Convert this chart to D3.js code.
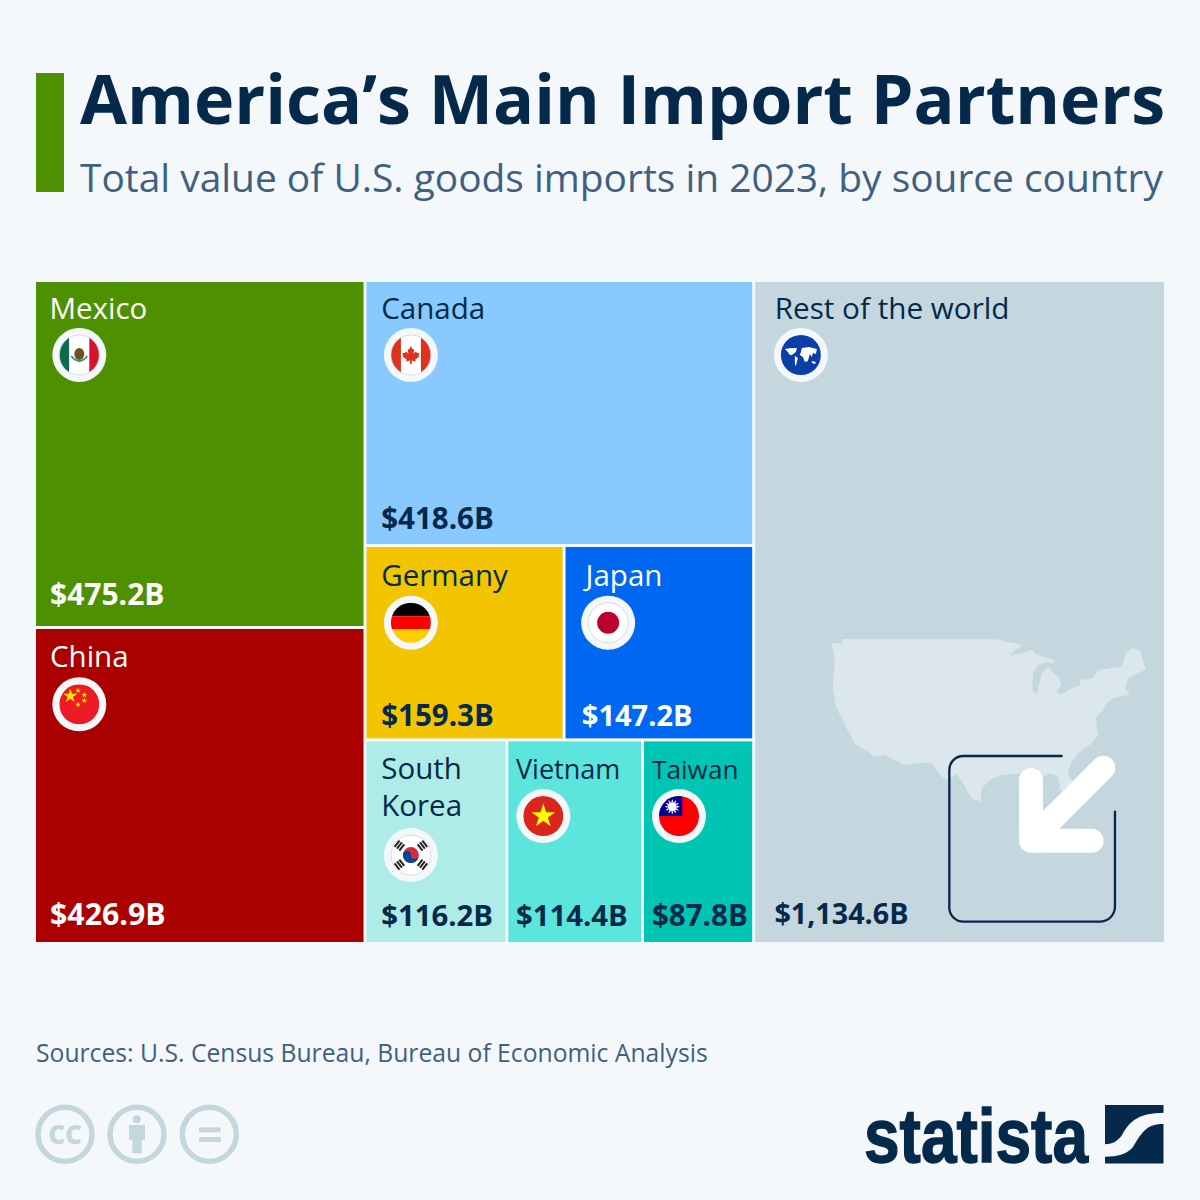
<!DOCTYPE html>
<html><head><meta charset="utf-8">
<script src="https://cdn.jsdelivr.net/npm/d3@7"></script>
<style>html,body{margin:0;padding:0;background:#f4f8fb}svg{display:block}text{font-family:"Open Sans",sans-serif}</style>
</head><body><svg id="c" width="1200" height="1200"></svg>
<script>
const titleText = "America’s Main Import Partners";
const subtitleText = "Total value of U.S. goods imports in 2023, by source country";
const sourceText = "Sources: U.S. Census Bureau, Bureau of Economic Analysis";
const countries = ["Mexico","China","Canada","Germany","Japan","South Korea","Vietnam","Taiwan","Rest of the world"];
// values printed in the cells
const importValues = [475.2,426.9,418.6,159.3,147.2,116.2,114.4,87.8,1134.6];
// the reference's cells are not exactly proportional to the printed values:
// these weights are estimated from the areas of the cells in the picture
const cellWeights = [471.1,429.0,423.1,158.9,151.4,118.6,113.5,93.0,1121.5];
const fillColors = ["#4e9100","#ab0000","#88caff","#f2c500","#0068f0","#aeece8","#5ce5dc","#00c5b2","#c4d7df"];
const textColors = ["#ffffff","#ffffff","#04294a","#04294a","#ffffff","#04294a","#04294a","#04294a","#04294a"];
const groupColumns = [["Mexico","China"],["Canada",["Germany","Japan"],["South Korea","Vietnam","Taiwan"]],["Rest of the world"]];

const NAVY="#04294a", BG="#f4f8fb";
const svg=d3.select("#c");
svg.append("rect").attr("width",1200).attr("height",1200).attr("fill",BG);
svg.append("rect").attr("x",36).attr("y",73).attr("width",28).attr("height",119).attr("fill","#4e9100");
svg.append("text").attr("x",80).attr("y",124).attr("font-size",68.2).attr("font-weight",700).attr("fill",NAVY).text(titleText);
svg.append("text").attr("x",80).attr("y",192).attr("font-size",38.9).attr("fill","#3f6080").text(subtitleText);

const weightOf=n=>cellWeights[countries.indexOf(n)];
const toNode=d=>Array.isArray(d)?{children:d.map(toNode)}:{name:d,value:weightOf(d)};
const root=d3.hierarchy({children:groupColumns.map(toNode)}).sum(d=>d.value||0);
const tile=(node,x0,y0,x1,y1)=>{
  (node.depth%2===0?d3.treemapDice:d3.treemapSlice)(node,x0,y0,x1,y1);
};
d3.treemap().size([1128,660]).paddingInner(3).tile(tile).round(false)(root);

// placement relative to each cell
const placement={
 "Mexico":{lx:13.5,ly:37,fx:43.3,fy:73,vx:14,vy:21.5,ls:29.5,vs:30},
 "China":{lx:14,ly:38,fx:43.3,fy:75.3,vx:14,vy:17.3,ls:29.5,vs:30.3},
 "Canada":{lx:14.7,ly:37,fx:44.4,fy:73,vx:14.7,vy:15.3,ls:29.5,vs:29.5},
 "Germany":{lx:14.7,ly:38.5,fx:44.4,fy:75.7,vx:14.7,vy:12.3,ls:29.5,vs:29.5},
 "Japan":{lx:20,ly:38.5,fx:42.6,fy:75.7,vx:16.3,vy:12.3,ls:29.5,vs:29},
 "South Korea":{lx:14.7,ly:38,fx:44.4,fy:113.7,vx:14.7,vy:16,ls:29.5,vs:29.3},
 "Vietnam":{lx:7.7,ly:38,fx:35,fy:74.7,vx:7.7,vy:16,ls:27,vs:29.3},
 "Taiwan":{lx:8,ly:38,fx:35,fy:74.7,vx:8,vy:16,ls:26.2,vs:29.5},
 "Rest of the world":{lx:19.5,ly:37,fx:45.7,fy:73,vx:19.2,vy:18.3,ls:29.7,vs:28.7}};

const g=svg.append("g").attr("transform","translate(36,282)");
const leaves=root.leaves();
g.selectAll("rect").data(leaves).join("rect")
 .attr("x",d=>d.x0).attr("y",d=>d.y0).attr("width",d=>d.x1-d.x0).attr("height",d=>d.y1-d.y0)
 .attr("fill",d=>fillColors[countries.indexOf(d.data.name)]);

// US silhouette + arrow frame (traced in a 3x space)
const deco=svg.append("g").attr("transform","translate(760,620) scale(0.3333)");
const usOutline=[[215,70],[245,70],[248,57],[695,57],[720,60],[740,65],[765,70],[790,75],[765,90],[750,105],[780,100],[815,90],[825,102],[850,110],[880,120],[885,130],[860,127],[835,135],[820,155],[817,190],[820,220],[832,218],[838,190],[845,160],[865,140],[880,160],[900,175],[905,195],[890,215],[905,223],[925,210],[960,195],[960,180],[1000,175],[1015,150],[1085,140],[1100,95],[1120,85],[1140,92],[1157,148],[1135,160],[1105,175],[1095,205],[1110,222],[1060,235],[1040,250],[1025,275],[1008,292],[1010,320],[1015,345],[995,370],[960,395],[935,425],[925,450],[925,465],[940,490],[950,530],[920,520],[900,510],[895,470],[870,460],[835,475],[800,465],[780,460],[725,465],[690,480],[665,505],[662,545],[635,535],[610,490],[590,462],[560,480],[540,465],[515,430],[485,428],[435,435],[375,405],[340,410],[325,395],[285,373],[260,325],[228,260],[218,200],[225,120]];
deco.append("path").attr("d",d3.line().curve(d3.curveLinearClosed)(usOutline)).attr("fill","#dbe6ed");
deco.append("path").attr("d","M905,408H610A42,42 0 0 0 568,450V865A42,42 0 0 0 610,905H1020A45,45 0 0 0 1065,862V575")
 .attr("fill","none").attr("stroke",NAVY).attr("stroke-width",7).attr("stroke-linecap","round");
deco.append("path").attr("d","M1030,443L813,660M813,480V662H995")
 .attr("fill","none").attr("stroke","#fff").attr("stroke-width",72).attr("stroke-linecap","round").attr("stroke-linejoin","round");

// flags
let clipId=0;
function flag(name,cx,cy){
  const f=svg.append("g").attr("transform",`translate(${cx},${cy})`);
  f.append("circle").attr("r",27).attr("fill",BG);
  const id="clip"+(clipId++);
  f.append("clipPath").attr("id",id).append("circle").attr("r",20);
  const c=f.append("g").attr("clip-path",`url(#${id})`);
  const rect=(x,y,w,h,col)=>c.append("rect").attr("x",x).attr("y",y).attr("width",w).attr("height",h).attr("fill",col);
  const star=(x,y,R,col)=>{c.append("path").attr("d",d3.symbol().type(d3.symbolStar).size(R*R*1.123)()).attr("fill",col).attr("transform",`translate(${x},${y})`);};
  const blob=(d,col)=>c.append("path").attr("d",d).attr("fill",col);
  if(name==="Mexico"){rect(-20,-20,10,40,"#0a6b4f");rect(-10,-20,20,40,"#fff");rect(10,-20,10,40,"#d8112c");
    c.append("ellipse").attr("cx",0).attr("cy",-1).attr("rx",5).attr("ry",6).attr("fill","#6e4f26");
    c.append("path").attr("d","M-8,1Q0,11 8,1").attr("fill","none").attr("stroke","#3f8f6a").attr("stroke-width",1.8);}
  if(name==="China"){rect(-20,-20,40,40,"#ec1c24");star(-9,-8.3,7.5,"#ffe600");star(-1.3,-13.7,3,"#ffe600");star(5,-9.3,3,"#ffe600");star(5,-3.7,3,"#ffe600");star(-1.3,0.3,3,"#ffe600");}
  if(name==="Canada"){rect(-20,-20,40,40,"#fff");rect(-20,-20,10,40,"#e0301e");rect(10,-20,10,40,"#e0301e");
    c.append("path").attr("transform","scale(0.85) translate(0,-0.5)").attr("d","M0,-10L2,-6L4,-7L3,-1L6,-4L7,-2L10,-2L9,1L10,2L5,6L6,8L1,7V11H-1V7L-6,8L-5,6L-10,2L-9,1L-10,-2L-7,-2L-6,-4L-3,-1L-4,-7L-2,-6Z").attr("fill","#e0301e");}
  if(name==="Germany"){rect(-20,-20,40,13.5,"#000");rect(-20,-6.5,40,13,"#f00");rect(-20,6.5,40,14,"#ffcc00");}
  if(name==="Japan"){rect(-20,-20,40,40,"#fff");c.append("circle").attr("r",11).attr("fill","#bc002d");}
  if(name==="South Korea"){rect(-20,-20,40,40,"#fff");
    c.append("circle").attr("r",8).attr("fill","#cd2e3a");
    blob("M-8,0A4,4 0 0 1 0,0A4,4 0 0 0 8,0A8,8 0 0 1 -8,0Z","#0047a0");
    [[-11.5,-9.5,-52],[11.5,-9.5,52],[-11.5,9.5,52],[11.5,9.5,-52]].forEach(t=>{const b=c.append("g").attr("transform",`translate(${t[0]},${t[1]}) rotate(${t[2]})`);
      [-3,0,3].forEach(o=>b.append("rect").attr("x",-4).attr("y",o-1).attr("width",8).attr("height",2).attr("fill","#222"));});}
  if(name==="Vietnam"){rect(-20,-20,40,40,"#da251d");star(0,0,12.5,"#ffff00");}
  if(name==="Taiwan"){rect(-20,-20,40,40,"#fe0000");rect(-20,-20,23.3,20,"#000095");
    c.append("circle").attr("cx",-6.7).attr("cy",-9.3).attr("r",4.5).attr("fill","#fff");
    d3.range(12).forEach(i=>c.append("path").attr("d","M-7.7,-14L-6.7,-17L-5.7,-14Z").attr("fill","#fff").attr("transform",`rotate(${i*30},-6.7,-9.3)`));}
  if(name==="Rest of the world"){rect(-20,-20,40,40,"#0b3ea6");
    blob("M-16,-6L-9,-7L-4,-7L-5,-3L-9,0L-11,0L-13,-3ZM-6,1L-3,3L-5,11L-6,9ZM1,-7L8,-8L16,-6L15,-1L12,-2L11,2L9,-1L7,6L4,7L2,2L-1,0L0,-3ZM11,6L15,7L14,9L11,8Z","#fff");}
  if(["Mexico","Canada","Japan","South Korea"].includes(name))
    f.append("circle").attr("r",20).attr("fill","none").attr("stroke","#cfd6dc").attr("stroke-width",0.8);
}
const fmt=d3.format("$,.1f");
leaves.forEach(d=>{
  const i=countries.indexOf(d.data.name), p=placement[d.data.name];
  const x=36+d.x0, top=282+d.y0, bottom=282+d.y1;
  const col=textColors[i];
  const lab=svg.append("text").attr("x",x+p.lx).attr("y",top+p.ly).attr("font-size",p.ls).attr("fill",col);
  if(d.data.name==="South Korea"){
    lab.append("tspan").attr("x",x+p.lx).text("South");
    lab.append("tspan").attr("x",x+p.lx).attr("dy",37).text("Korea");
  } else lab.text(d.data.name);
  flag(d.data.name,x+p.fx,top+p.fy);
  svg.append("text").attr("x",x+p.vx).attr("y",bottom-p.vy).attr("font-size",p.vs).attr("font-weight",700).attr("fill",col).text(fmt(importValues[i])+"B");
});

svg.append("text").attr("x",36).attr("y",1062).attr("font-size",24.7).attr("fill","#3f6080").text(sourceText);

// licence icons
const LIC="#c4d7df";
[65,137,209.3].forEach(x=>svg.append("circle").attr("cx",x).attr("cy",1134.3).attr("r",27).attr("fill","none").attr("stroke",LIC).attr("stroke-width",5.5));
svg.append("text").attr("x",65).attr("y",1143.5).attr("text-anchor","middle").attr("font-size",26).attr("font-weight",800).attr("fill",LIC).text("CC");
svg.append("circle").attr("cx",136.8).attr("cy",1119.3).attr("r",4).attr("fill",LIC);
svg.append("path").attr("d","M129,1125H145V1140H141.7V1153.3H132.3V1140H129Z").attr("fill",LIC);
svg.append("rect").attr("x",199).attr("y",1127.3).attr("width",21.7).attr("height",5).attr("fill",LIC);
svg.append("rect").attr("x",199).attr("y",1137).attr("width",21.7).attr("height",5).attr("fill",LIC);

// logo
svg.append("text").attr("x",864).attr("y",1162).attr("font-size",76).attr("font-weight",700).attr("textLength",224).attr("lengthAdjust","spacingAndGlyphs").attr("fill",NAVY).attr("stroke",NAVY).attr("stroke-width",1.4).style("font-family","'Liberation Sans Narrow','Liberation Sans',sans-serif").text("statista");
svg.append("path").attr("d","M1105,1105H1163.5V1112.7C1140,1113 1130,1120 1122,1135C1117,1142 1112,1144 1105,1144.3ZM1163.5,1124C1148,1124 1143,1130 1133,1147C1127,1154 1118,1156.7 1105,1156.7V1163.5H1163.5Z").attr("fill",NAVY);
</script></body></html>
